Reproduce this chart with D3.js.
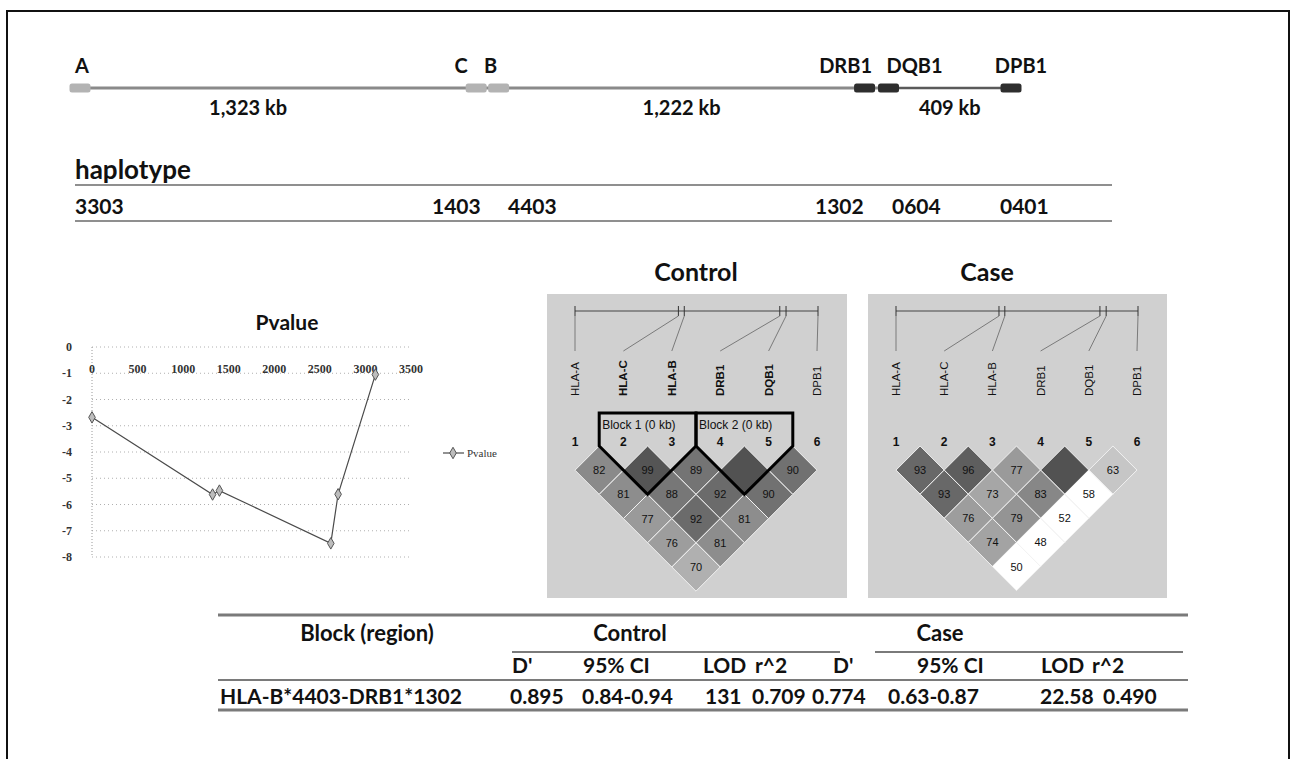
<!DOCTYPE html>
<html>
<head>
<meta charset="utf-8">
<script src="https://cdn.jsdelivr.net/npm/d3@7"></script>
<style>
  body { margin: 0; background: #fff; }
  svg { display: block; }
</style>
</head>
<body>
<svg id="fig" width="1299" height="759"></svg>
<script>
// ---------------- data ----------------
const genes = ["A", "C", "B", "DRB1", "DQB1", "DPB1"];
const geneKb = [0, 1323, 1398, 2620, 2700, 3109];          // position along the region (kb)
const geneClass = ["I", "I", "I", "II", "II", "II"];
const gapLabels = ["1,323 kb", "1,222 kb", "409 kb"];
const gapAfterGene = [0, 2, 4];                             // gene index that starts each gap

const haplotype = ["3303", "1403", "4403", "1302", "0604", "0401"];

const pvalueLog = [-2.68, -5.62, -5.47, -7.48, -5.61, -1.05];
const pvXTicks = [0, 500, 1000, 1500, 2000, 2500, 3000, 3500];
const pvYTicks = [0, -1, -2, -3, -4, -5, -6, -7, -8];

const markers = ["HLA-A", "HLA-C", "HLA-B", "DRB1", "DQB1", "DPB1"];
// D' x100 per diagonal: row k holds pairs (i, i+k+1); 100 is drawn without a number
const controlDprime = [[82, 99, 89, 100, 90], [81, 88, 92, 90], [77, 92, 81], [76, 81], [70]];
const controlLodHigh = [[1, 1, 1, 1, 1], [1, 1, 1, 1], [1, 1, 1], [1, 1], [1]];
const controlBlocks = [
  { name: "Block 1 (0 kb)", first: 1, last: 2 },
  { name: "Block 2 (0 kb)", first: 3, last: 4 }
];
const caseDprime = [[93, 96, 77, 100, 63], [93, 73, 83, 58], [76, 79, 52], [74, 48], [50]];
const caseLodHigh = [[1, 1, 1, 1, 1], [1, 1, 1, 0], [1, 1, 0], [1, 0], [0]];
const caseBlocks = [];

const tableSubHeads = ["D'", "95% CI", "LOD", "r^2", "D'", "95% CI", "LOD", "r^2"];
const tableRow = ["HLA-B*4403-DRB1*1302", "0.895", "0.84-0.94", "131", "0.709",
                  "0.774", "0.63-0.87", "22.58", "0.490"];

// ---------------- drawing ----------------
const svg = d3.select("#fig");
const SANS = "Lato, 'Open Sans', sans-serif";
const ARIAL = "'Liberation Sans', Arial, sans-serif";
const SERIF = "'Liberation Serif', 'Times New Roman', serif";

// outer frame
svg.append("rect").attr("x", 7).attr("y", 11).attr("width", 1282).attr("height", 770)
  .attr("fill", "none").attr("stroke", "#111").attr("stroke-width", 2);

// ---- gene map ----
const xGene = d3.scaleLinear().domain([0, 3109]).range([80, 1011]);
const mapY = 88, boxW = 21, boxH = 9;
const gMap = svg.append("g");
gMap.append("line")
  .attr("x1", xGene(geneKb[0])).attr("x2", xGene(geneKb[4]))
  .attr("y1", mapY).attr("y2", mapY).attr("stroke", "#8a8a8a").attr("stroke-width", 3);
gMap.append("line")
  .attr("x1", xGene(geneKb[4])).attr("x2", xGene(geneKb[5]))
  .attr("y1", mapY).attr("y2", mapY).attr("stroke", "#5a5a5a").attr("stroke-width", 2.5);
gMap.selectAll("rect.gene").data(genes).join("rect")
  .attr("class", "gene")
  .attr("x", (d, i) => xGene(geneKb[i]) - boxW / 2)
  .attr("y", mapY - boxH / 2).attr("width", boxW).attr("height", boxH).attr("rx", 2.5)
  .attr("fill", (d, i) => geneClass[i] === "I" ? "#b3b3b3" : "#2e2e2e");
// labels are spread apart where neighbouring genes sit close together
const labelShift = [2, -15, -8, -19, 26, 10];
gMap.selectAll("text.gene").data(genes).join("text")
  .attr("class", "gene")
  .attr("x", (d, i) => xGene(geneKb[i]) + labelShift[i])
  .attr("y", 73).attr("text-anchor", "middle")
  .attr("font-family", SANS).attr("font-weight", 700).attr("font-size", 20).attr("fill", "#111")
  .text(d => d);
gMap.selectAll("text.gap").data(gapLabels).join("text")
  .attr("class", "gap")
  .attr("x", (d, i) => (xGene(geneKb[gapAfterGene[i]]) + xGene(geneKb[gapAfterGene[i] + 1])) / 2 - (i === 0 ? 30 : 0))
  .attr("y", 115).attr("text-anchor", "middle")
  .attr("font-family", SANS).attr("font-weight", 700).attr("font-size", 20).attr("fill", "#111")
  .text(d => d);

// ---- haplotype row ----
const hapX = [75, 432, 508, 815, 892, 1000];
svg.append("text").attr("x", 75).attr("y", 179)
  .attr("font-family", SANS).attr("font-weight", 700).attr("font-size", 26).attr("fill", "#111")
  .text("haplotype");
[185, 221].forEach(y => svg.append("line").attr("x1", 75).attr("x2", 1112)
  .attr("y1", y).attr("y2", y).attr("stroke", "#6a6a6a").attr("stroke-width", 1.3));
svg.selectAll("text.hap").data(haplotype).join("text")
  .attr("class", "hap").attr("x", (d, i) => hapX[i]).attr("y", 214)
  .attr("font-family", SANS).attr("font-weight", 700).attr("font-size", 21).attr("fill", "#111")
  .text(d => d);

// ---- Pvalue line chart ----
const xP = d3.scaleLinear().domain([0, 3500]).range([92, 411]);
const yP = d3.scaleLinear().domain([0, -8]).range([347, 557]);
const gP = svg.append("g");
gP.append("text").attr("x", 287).attr("y", 330).attr("text-anchor", "middle")
  .attr("font-family", SANS).attr("font-weight", 700).attr("font-size", 21).attr("fill", "#111")
  .text("Pvalue");
gP.selectAll("line.grid").data(pvYTicks).join("line")
  .attr("class", "grid").attr("x1", xP(0)).attr("x2", xP(3500))
  .attr("y1", d => yP(d)).attr("y2", d => yP(d))
  .attr("stroke", "#b0b0b0").attr("stroke-width", 1).attr("stroke-dasharray", "1,3");
gP.append("line").attr("x1", xP(0)).attr("x2", xP(0)).attr("y1", yP(0)).attr("y2", yP(-8))
  .attr("stroke", "#9a9a9a").attr("stroke-width", 1).attr("stroke-dasharray", "1,2");
gP.selectAll("text.yt").data(pvYTicks).join("text")
  .attr("class", "yt").attr("x", 72).attr("y", d => yP(d) + 4).attr("text-anchor", "end")
  .attr("font-family", SERIF).attr("font-weight", 700).attr("font-size", 12).attr("fill", "#333")
  .text(d => d === 0 ? "0" : "-" + Math.abs(d));
gP.selectAll("text.xt").data(pvXTicks).join("text")
  .attr("class", "xt").attr("x", d => xP(d)).attr("y", 373).attr("text-anchor", "middle")
  .attr("font-family", SERIF).attr("font-weight", 700).attr("font-size", 12).attr("fill", "#333")
  .text(d => d);
const pvLine = d3.line().x((d, i) => xP(geneKb[i])).y(d => yP(d));
gP.append("path").datum(pvalueLog).attr("d", pvLine)
  .attr("fill", "none").attr("stroke", "#4a4a4a").attr("stroke-width", 1.2);
const diamond = d3.symbol().type(d3.symbolDiamond).size(38);
gP.selectAll("path.pt").data(pvalueLog).join("path")
  .attr("class", "pt").attr("d", diamond)
  .attr("transform", (d, i) => `translate(${xP(geneKb[i])},${yP(d)})`)
  .attr("fill", "#bdbdbd").attr("stroke", "#555").attr("stroke-width", 1);
// legend
gP.append("line").attr("x1", 443).attr("x2", 464).attr("y1", 453).attr("y2", 453)
  .attr("stroke", "#4a4a4a").attr("stroke-width", 1.2);
gP.append("path").attr("d", diamond).attr("transform", "translate(453,453)")
  .attr("fill", "#bdbdbd").attr("stroke", "#555").attr("stroke-width", 1);
gP.append("text").attr("x", 467).attr("y", 457)
  .attr("font-family", SERIF).attr("font-size", 11).attr("fill", "#333").text("Pvalue");

// ---- LD heat maps ----
function ldShade(dp, high) {
  if (!high) return "#ffffff";
  const blgr = Math.max(0, Math.min(255, 446 * (1 - dp / 100)));
  const v = Math.round(82 + 0.7 * blgr);
  return d3.rgb(v, v, v).toString();
}

function drawLD(opt) {
  const g = svg.append("g");
  const xm = d3.scalePoint().domain(d3.range(markers.length)).range([opt.x0, opt.x1]);
  const half = xm.step() / 2;
  const xr = d3.scaleLinear().domain([0, 3109]).range([opt.x0, opt.x1 + 1]);
  const rowTop = 446;

  g.append("rect").attr("x", opt.x0 - 28).attr("y", 294)
    .attr("width", opt.x1 - opt.x0 + 58).attr("height", 304).attr("fill", "#d0d0d0");
  g.append("text").attr("x", opt.titleX).attr("y", 281).attr("text-anchor", "middle")
    .attr("font-family", SANS).attr("font-weight", 700).attr("font-size", 25).attr("fill", "#111")
    .text(opt.title);

  // physical ruler and ties to marker names
  g.append("line").attr("x1", xr(0)).attr("x2", xr(3109)).attr("y1", 311).attr("y2", 311)
    .attr("stroke", "#444").attr("stroke-width", 1);
  g.selectAll("line.tick").data(geneKb).join("line").attr("class", "tick")
    .attr("x1", d => xr(d)).attr("x2", d => xr(d)).attr("y1", 306).attr("y2", 316)
    .attr("stroke", "#333").attr("stroke-width", 1);
  g.selectAll("line.tie").data(geneKb).join("line").attr("class", "tie")
    .attr("x1", d => xr(d)).attr("y1", 316)
    .attr("x2", (d, i) => xm(i)).attr("y2", 351)
    .attr("stroke", "#7a7a7a").attr("stroke-width", 1);

  const inBlock = i => opt.blocks.some(b => i >= b.first && i <= b.last);
  g.selectAll("text.mk").data(markers).join("text").attr("class", "mk")
    .attr("transform", (d, i) => `translate(${xm(i) + 4},396) rotate(-90)`)
    .attr("font-family", ARIAL).attr("font-size", 11.5)
    .attr("font-weight", (d, i) => inBlock(i) ? 700 : 400).attr("fill", "#111")
    .text(d => d);
  g.selectAll("text.num").data(markers).join("text").attr("class", "num")
    .attr("x", (d, i) => xm(i)).attr("y", 446).attr("text-anchor", "middle")
    .attr("font-family", ARIAL).attr("font-weight", 700).attr("font-size", 12).attr("fill", "#111")
    .text((d, i) => i + 1);

  // pairwise cells
  const cells = [];
  opt.values.forEach((row, k) => row.forEach((v, i) => {
    const j = i + k + 1;
    cells.push({ v, high: opt.lod[k][i], cx: (xm(i) + xm(j)) / 2, cy: rowTop + (k + 1) * half });
  }));
  g.selectAll("path.cell").data(cells).join("path").attr("class", "cell")
    .attr("d", c => `M${c.cx},${c.cy - half}L${c.cx + half},${c.cy}L${c.cx},${c.cy + half}L${c.cx - half},${c.cy}Z`)
    .attr("fill", c => ldShade(c.v, c.high)).attr("stroke", "#f2f2f2").attr("stroke-width", 1);
  g.selectAll("text.cell").data(cells.filter(c => c.v < 100)).join("text").attr("class", "cell")
    .attr("x", c => c.cx).attr("y", c => c.cy + 4).attr("text-anchor", "middle")
    .attr("font-family", ARIAL).attr("font-size", 11).attr("fill", "#111")
    .text(c => c.v);

  // haplotype block outlines
  opt.blocks.forEach(b => {
    const left = (xm(b.first - 1) + xm(b.first)) / 2;
    const right = (xm(b.last) + xm(b.last + 1)) / 2;
    const mid = (left + right) / 2;
    const bottom = rowTop + (right - left) / 2;
    g.append("path")
      .attr("d", `M${left},446L${left},413L${right},413L${right},446L${mid},${bottom}Z`)
      .attr("fill", "none").attr("stroke", "#000").attr("stroke-width", 3).attr("stroke-linejoin", "miter");
    g.append("text").attr("x", left + 3).attr("y", 429)
      .attr("font-family", ARIAL).attr("font-size", 12).attr("fill", "#111").text(b.name);
  });
}

drawLD({ title: "Control", titleX: 696, x0: 575, x1: 817, values: controlDprime, lod: controlLodHigh, blocks: controlBlocks });
drawLD({ title: "Case", titleX: 987, x0: 896, x1: 1137, values: caseDprime, lod: caseLodHigh, blocks: caseBlocks });

// ---- summary table ----
const gT = svg.append("g").attr("font-family", SANS).attr("font-weight", 700).attr("fill", "#111");
const rule = (x1, x2, y, w) => gT.append("line").attr("x1", x1).attr("x2", x2).attr("y1", y).attr("y2", y)
  .attr("stroke", "#7a7a7a").attr("stroke-width", w);
rule(218, 1188, 615, 3);
rule(512, 840, 652, 2);
rule(875, 1183, 652, 2);
rule(218, 1188, 680, 2);
rule(218, 1188, 710, 3);
gT.append("text").attr("x", 367).attr("y", 641).attr("text-anchor", "middle").attr("font-size", 22).text("Block (region)");
gT.append("text").attr("x", 630).attr("y", 641).attr("text-anchor", "middle").attr("font-size", 22).text("Control");
gT.append("text").attr("x", 940).attr("y", 641).attr("text-anchor", "middle").attr("font-size", 22).text("Case");
const subX = [512, 583, 703, 755, 833, 917, 1041, 1092];
gT.selectAll("text.sub").data(tableSubHeads).join("text").attr("class", "sub")
  .attr("x", (d, i) => subX[i]).attr("y", 673).attr("font-size", 21).text(d => d);
const rowX = [220, 510, 582, 705, 752, 812, 888, 1040, 1103];
gT.selectAll("text.row").data(tableRow).join("text").attr("class", "row")
  .attr("x", (d, i) => rowX[i]).attr("y", 704).attr("font-size", 21).text(d => d);
</script>
</body>
</html>
